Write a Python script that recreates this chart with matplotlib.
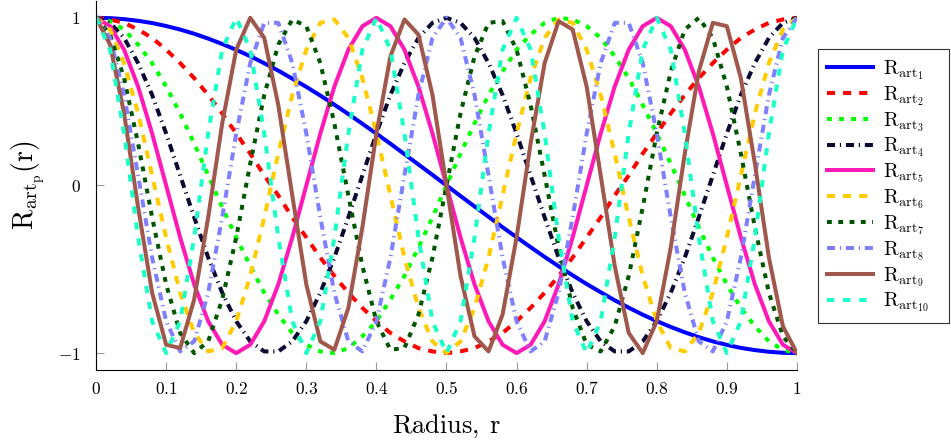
import matplotlib
matplotlib.use("Agg")
import matplotlib.pyplot as plt

plt.rcParams["mathtext.fontset"] = "cm"
plt.rcParams["font.family"] = ["DejaVu Serif"]

# sampled radius values (51 samples over [0, 1])
radius = [0.00, 0.02, 0.04, 0.06, 0.08, 0.10, 0.12, 0.14, 0.16, 0.18,
          0.20, 0.22, 0.24, 0.26, 0.28, 0.30, 0.32, 0.34, 0.36, 0.38,
          0.40, 0.42, 0.44, 0.46, 0.48, 0.50, 0.52, 0.54, 0.56, 0.58,
          0.60, 0.62, 0.64, 0.66, 0.68, 0.70, 0.72, 0.74, 0.76, 0.78,
          0.80, 0.82, 0.84, 0.86, 0.88, 0.90, 0.92, 0.94, 0.96, 0.98,
          1.00]

rart1 = [1.000, 0.998, 0.992, 0.982, 0.969, 0.951, 0.930, 0.905, 0.876, 0.844,
         0.809, 0.771, 0.729, 0.685, 0.637, 0.588, 0.536, 0.482, 0.426, 0.368,
         0.309, 0.249, 0.187, 0.125, 0.063, 0.000, -0.063, -0.125, -0.187, -0.249,
         -0.309, -0.368, -0.426, -0.482, -0.536, -0.588, -0.637, -0.685, -0.729, -0.771,
         -0.809, -0.844, -0.876, -0.905, -0.930, -0.951, -0.969, -0.982, -0.992, -0.998,
         -1.000]
rart2 = [1.00, 0.99, 0.97, 0.93, 0.88, 0.81, 0.73, 0.64, 0.54, 0.43,
         0.31, 0.19, 0.06, -0.06, -0.19, -0.31, -0.43, -0.54, -0.64, -0.73,
         -0.81, -0.88, -0.93, -0.97, -0.99, -1.00, -0.99, -0.97, -0.93, -0.88,
         -0.81, -0.73, -0.64, -0.54, -0.43, -0.31, -0.19, -0.06, 0.06, 0.19,
         0.31, 0.43, 0.54, 0.64, 0.73, 0.81, 0.88, 0.93, 0.97, 0.99,
         1.00]
rart3 = [1.00, 0.98, 0.93, 0.84, 0.73, 0.59, 0.43, 0.25, 0.06, -0.13,
         -0.31, -0.48, -0.64, -0.77, -0.88, -0.95, -0.99, -1.00, -0.97, -0.90,
         -0.81, -0.68, -0.54, -0.37, -0.19, 0.00, 0.19, 0.37, 0.54, 0.68,
         0.81, 0.90, 0.97, 1.00, 0.99, 0.95, 0.88, 0.77, 0.64, 0.48,
         0.31, 0.13, -0.06, -0.25, -0.43, -0.59, -0.73, -0.84, -0.93, -0.98,
         -1.00]
rart4 = [1.00, 0.97, 0.88, 0.73, 0.54, 0.31, 0.06, -0.19, -0.43, -0.64,
         -0.81, -0.93, -0.99, -0.99, -0.93, -0.81, -0.64, -0.43, -0.19, 0.06,
         0.31, 0.54, 0.73, 0.88, 0.97, 1.00, 0.97, 0.88, 0.73, 0.54,
         0.31, 0.06, -0.19, -0.43, -0.64, -0.81, -0.93, -0.99, -0.99, -0.93,
         -0.81, -0.64, -0.43, -0.19, 0.06, 0.31, 0.54, 0.73, 0.88, 0.97,
         1.00]
rart5 = [1.00, 0.95, 0.81, 0.59, 0.31, 0.00, -0.31, -0.59, -0.81, -0.95,
         -1.00, -0.95, -0.81, -0.59, -0.31, 0.00, 0.31, 0.59, 0.81, 0.95,
         1.00, 0.95, 0.81, 0.59, 0.31, 0.00, -0.31, -0.59, -0.81, -0.95,
         -1.00, -0.95, -0.81, -0.59, -0.31, 0.00, 0.31, 0.59, 0.81, 0.95,
         1.00, 0.95, 0.81, 0.59, 0.31, 0.00, -0.31, -0.59, -0.81, -0.95,
         -1.00]
rart6 = [1.00, 0.93, 0.73, 0.43, 0.06, -0.31, -0.64, -0.88, -0.99, -0.97,
         -0.81, -0.54, -0.19, 0.19, 0.54, 0.81, 0.97, 0.99, 0.88, 0.64,
         0.31, -0.06, -0.43, -0.73, -0.93, -1.00, -0.93, -0.73, -0.43, -0.06,
         0.31, 0.64, 0.88, 0.99, 0.97, 0.81, 0.54, 0.19, -0.19, -0.54,
         -0.81, -0.97, -0.99, -0.88, -0.64, -0.31, 0.06, 0.43, 0.73, 0.93,
         1.00]
rart7 = [1.00, 0.90, 0.64, 0.25, -0.19, -0.59, -0.88, -1.00, -0.93, -0.68,
         -0.31, 0.13, 0.54, 0.84, 0.99, 0.95, 0.73, 0.37, -0.06, -0.48,
         -0.81, -0.98, -0.97, -0.77, -0.43, 0.00, 0.43, 0.77, 0.97, 0.98,
         0.81, 0.48, 0.06, -0.37, -0.73, -0.95, -0.99, -0.84, -0.54, -0.13,
         0.31, 0.68, 0.93, 1.00, 0.88, 0.59, 0.19, -0.25, -0.64, -0.90,
         -1.00]
rart8 = [1.00, 0.88, 0.54, 0.06, -0.43, -0.81, -0.99, -0.93, -0.64, -0.19,
         0.31, 0.73, 0.97, 0.97, 0.73, 0.31, -0.19, -0.64, -0.93, -0.99,
         -0.81, -0.43, 0.06, 0.54, 0.88, 1.00, 0.88, 0.54, 0.06, -0.43,
         -0.81, -0.99, -0.93, -0.64, -0.19, 0.31, 0.73, 0.97, 0.97, 0.73,
         0.31, -0.19, -0.64, -0.93, -0.99, -0.81, -0.43, 0.06, 0.54, 0.88,
         1.00]
rart9 = [1.00, 0.84, 0.43, -0.13, -0.64, -0.95, -0.97, -0.68, -0.19, 0.37,
         0.81, 1.00, 0.88, 0.48, -0.06, -0.59, -0.93, -0.98, -0.73, -0.25,
         0.31, 0.77, 0.99, 0.90, 0.54, 0.00, -0.54, -0.90, -0.99, -0.77,
         -0.31, 0.25, 0.73, 0.98, 0.93, 0.59, 0.06, -0.48, -0.88, -1.00,
         -0.81, -0.37, 0.19, 0.68, 0.97, 0.95, 0.64, 0.13, -0.43, -0.84,
         -1.00]
rart10 = [1.00, 0.81, 0.31, -0.31, -0.81, -1.00, -0.81, -0.31, 0.31, 0.81,
          1.00, 0.81, 0.31, -0.31, -0.81, -1.00, -0.81, -0.31, 0.31, 0.81,
          1.00, 0.81, 0.31, -0.31, -0.81, -1.00, -0.81, -0.31, 0.31, 0.81,
          1.00, 0.81, 0.31, -0.31, -0.81, -1.00, -0.81, -0.31, 0.31, 0.81,
          1.00, 0.81, 0.31, -0.31, -0.81, -1.00, -0.81, -0.31, 0.31, 0.81,
          1.00]

series = [rart1, rart2, rart3, rart4, rart5, rart6, rart7, rart8, rart9, rart10]
labels = [r"$\mathrm{R}_{\mathrm{art}_{%d}}$" % p for p in range(1, 11)]

colors = ["#0000ff", "#ff0000", "#00ff00", "#0a0a33", "#ff1ab8",
          "#ffcc00", "#005500", "#8080ff", "#a0584c", "#1affc8"]
styles = ["-", (0, (2, 2)), (0, (1.2, 1.8)), (0, (2, 1.2, 0.3, 1.2)), "-",
          (0, (2, 2)), (0, (1.2, 1.6)), (0, (2, 1.2, 0.3, 1.2)), "-",
          (0, (1.8, 2.2))]

xticks = [0, 0.1, 0.2, 0.3, 0.4, 0.5, 0.6, 0.7, 0.8, 0.9, 1]
xticklabels = ["$0$", "$0.1$", "$0.2$", "$0.3$", "$0.4$", "$0.5$",
               "$0.6$", "$0.7$", "$0.8$", "$0.9$", "$1$"]
yticks = [-1, 0, 1]
yticklabels = ["$-1$", "$0$", "$1$"]

fig = plt.figure(figsize=(9.51, 4.40), dpi=100)
ax = fig.add_axes([0.101, 0.159, 0.737, 0.839])

for vals, lab, col, ls in zip(series, labels, colors, styles):
    ax.plot(radius, vals, color=col, linestyle=ls, linewidth=2.9, label=lab)

ax.set_xlim(0, 1)
ax.set_ylim(-1.101, 1.101)
ax.spines["top"].set_visible(False)
ax.spines["right"].set_visible(False)
ax.set_xticks(xticks)
ax.set_xticklabels(xticklabels, fontsize=12.5)
ax.set_yticks(yticks)
ax.set_yticklabels(yticklabels, fontsize=12.5)
ax.tick_params(direction="in", length=6, width=0.8, color="#999999")
ax.tick_params(axis="x", pad=8)
ax.tick_params(axis="y", pad=11)

ax.set_xlabel(r"$\mathrm{Radius,}\;\mathrm{r}$", fontsize=19, labelpad=10)
ax.set_ylabel(r"$\mathrm{R}_{\mathrm{art}_{\mathrm{p}}}(\mathrm{r})$", fontsize=20, labelpad=8)

leg = fig.legend(loc="upper left",
                 bbox_to_anchor=(818 / 951, 1 - 322 / 440, 131 / 951, 273 / 440),
                 mode="expand", fontsize=14.5, handlelength=2.3, handletextpad=0.5,
                 labelspacing=0.1, borderpad=0.45, borderaxespad=0,
                 fancybox=False, edgecolor="#333333", framealpha=1)
leg.get_frame().set_linewidth(0.8)

fig.savefig("out.png", dpi=100)
